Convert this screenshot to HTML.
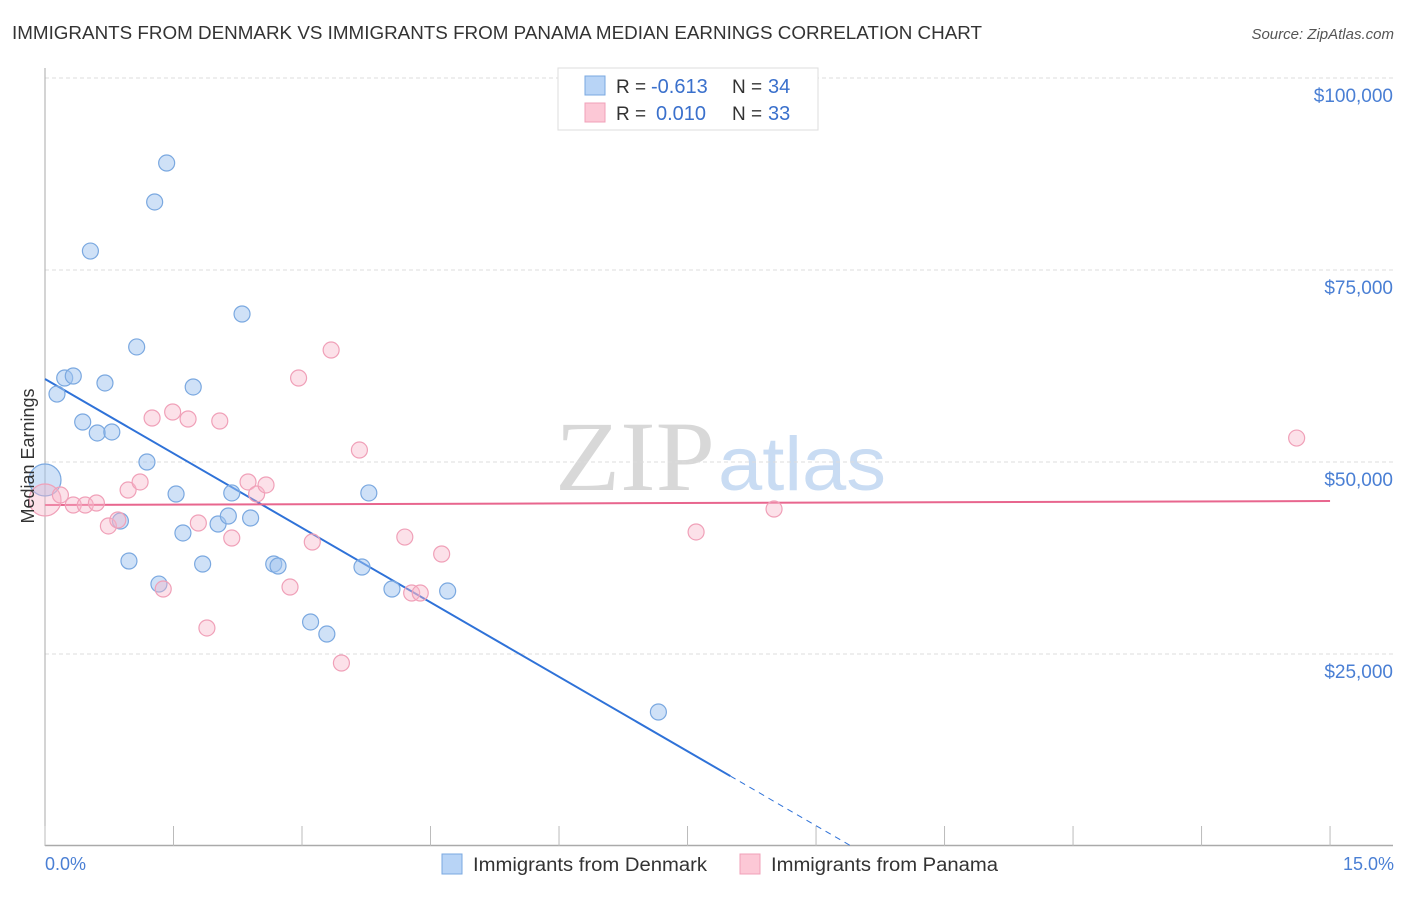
<!DOCTYPE html>
<html><head><meta charset="utf-8"><style>
body{margin:0;background:#fff;font-family:"Liberation Sans",sans-serif;}
</style></head><body>
<svg id="chart" width="1406" height="892" xmlns="http://www.w3.org/2000/svg" font-family="Liberation Sans, sans-serif">
<text x="12" y="39" font-size="18" fill="#333" textLength="970" lengthAdjust="spacingAndGlyphs">IMMIGRANTS FROM DENMARK VS IMMIGRANTS FROM PANAMA MEDIAN EARNINGS CORRELATION CHART</text>
<text x="1394" y="39" font-size="15" fill="#555" text-anchor="end" font-style="italic">Source: ZipAtlas.com</text>
<g>
<text x="555" y="490" font-size="100" fill="#d8d8d8" style="font-family:'Liberation Serif',serif" textLength="160" lengthAdjust="spacingAndGlyphs">ZIP</text>
<text x="718" y="490" font-size="76" fill="#c9dcf3" textLength="168" lengthAdjust="spacingAndGlyphs">atlas</text>
</g>
<g id="grid"></g>
<g id="axes"></g>
<g id="trends"></g>
<g id="points"></g>
<text transform="translate(34,456) rotate(-90)" font-size="18" fill="#333" text-anchor="middle">Median Earnings</text>
<text x="45" y="870" font-size="18" fill="#4a7fd4">0.0%</text>
<text x="1394" y="870" font-size="18" fill="#4a7fd4" text-anchor="end">15.0%</text>
<g>
<rect x="558" y="68" width="260" height="62" fill="#fff" stroke="#ddd"/>
<rect x="585" y="76" width="20" height="19" fill="#b8d4f6" stroke="#7aa8e0"/>
<rect x="585" y="103" width="20" height="19" fill="#fcc8d6" stroke="#f0a0b8"/>
<text x="616" y="93" font-size="19" fill="#333">R =</text>
<text x="651" y="93" font-size="20" fill="#3a70cc">-0.613</text>
<text x="732" y="93" font-size="19" fill="#333">N =</text>
<text x="768" y="93" font-size="20" fill="#3a70cc">34</text>
<text x="616" y="120" font-size="19" fill="#333">R =</text>
<text x="656" y="120" font-size="20" fill="#3a70cc">0.010</text>
<text x="732" y="120" font-size="19" fill="#333">N =</text>
<text x="768" y="120" font-size="20" fill="#3a70cc">33</text>
</g>
<g>
<rect x="442" y="854" width="20" height="20" fill="#b8d4f6" stroke="#7aa8e0"/>
<text x="473" y="871" font-size="19" fill="#333" textLength="234" lengthAdjust="spacingAndGlyphs">Immigrants from Denmark</text>
<rect x="740" y="854" width="20" height="20" fill="#fcc8d6" stroke="#f0a0b8"/>
<text x="771" y="871" font-size="19" fill="#333" textLength="227" lengthAdjust="spacingAndGlyphs">Immigrants from Panama</text>
</g>
</svg>
<script>
const yTicks=[25000,50000,75000,100000];
const yTickLabels=["$25,000","$50,000","$75,000","$100,000"];
const xTicks=[0,1.5,3,4.5,6,7.5,9,10.5,12,13.5,15];
const denX=[0,0.14,0.23,0.33,0.53,0.44,0.61,0.70,0.78,0.88,0.98,1.07,1.19,1.28,1.33,1.42,1.53,1.61,1.73,1.84,2.02,2.14,2.18,2.30,2.40,2.67,2.72,3.10,3.29,3.70,3.78,4.05,4.70,7.16];
const denY=[47660,58850,60940,61200,77470,55210,53780,60290,53910,42320,37110,64980,50000,83860,34110,88930,45830,40760,59770,36720,41930,42970,45970,69270,42710,36720,36460,29170,27600,36330,45970,33460,33200,17450];
const panX=[0,0.18,0.33,0.47,0.60,0.74,0.85,0.97,1.11,1.25,1.38,1.49,1.67,1.79,1.89,2.04,2.18,2.37,2.47,2.58,2.86,2.96,3.12,3.34,3.46,3.67,4.20,4.28,4.38,4.63,7.60,8.51,14.61];
const panY=[45050,45700,44400,44400,44660,41670,42450,46350,47400,55730,33460,56510,55600,42060,28390,55340,40100,47400,45830,47010,33720,60940,39580,64580,23830,51560,40230,32940,32940,38020,40890,43880,53120];
const denTrend=[60810,-6463];
const panTrend=[44400,34.7];
const NS="http://www.w3.org/2000/svg";
const X=v=>45+v*85.67, Y=v=>846-v/130.21;
function mk(t,a,p){const e=document.createElementNS(NS,t);for(const k in a)e.setAttribute(k,a[k]);p.appendChild(e);return e;}
const grid=document.getElementById('grid'),axes=document.getElementById('axes'),tr=document.getElementById('trends'),pts=document.getElementById('points');
yTicks.forEach((t,i)=>{
 const l=mk('line',{x1:45,x2:1393,y1:Y(t),y2:Y(t),stroke:'#ddd','stroke-dasharray':'4,3'},grid);
 
 
 const tx=mk('text',{x:1393,y:Y(t)+24,'font-size':19,fill:'#4a7fd4','text-anchor':'end'},grid);
 tx.textContent=yTickLabels[i];
 
 
});
const topg=mk('line',{x1:45,x2:1393,y1:78,y2:78,stroke:'#ddd','stroke-dasharray':'4,3'},grid);


const ya=mk('line',{x1:45,x2:45,y1:68,y2:846,stroke:'#aaa'},axes);


const xa=mk('line',{x1:45,x2:1393,y1:845.5,y2:845.5,stroke:'#aaa','stroke-width':1.5},axes);


xTicks.forEach(t=>{
 const l=mk('line',{x1:X(t),x2:X(t),y1:826,y2:846,stroke:'#bbb'},axes);
 
 
});
function dots(xs,ys,fill,stroke,name){
 xs.forEach((x,i)=>{
  const c=mk('circle',{cx:X(x),cy:Y(ys[i]),r:i==0?16:8,fill:fill,stroke:stroke,'stroke-width':1.2},pts);
  
  
 });
}
const dEnd=8.0, dZero=-denTrend[0]/denTrend[1];
const b1=mk('line',{x1:X(0),y1:Y(denTrend[0]),x2:X(dEnd),y2:Y(denTrend[0]+denTrend[1]*dEnd),stroke:'#2f72d8','stroke-width':2},tr);


const b2=mk('line',{x1:X(dEnd),y1:Y(denTrend[0]+denTrend[1]*dEnd),x2:X(dZero),y2:Y(0),stroke:'#2f72d8','stroke-width':1,'stroke-dasharray':'6,5'},tr);


const p1=mk('line',{x1:X(0),y1:Y(panTrend[0]),x2:X(15),y2:Y(panTrend[0]+panTrend[1]*15),stroke:'#e8668e','stroke-width':2},tr);


dots(denX,denY,'rgba(160,195,240,0.5)','#7aa8e0','denmark-point');
dots(panX,panY,'rgba(248,180,200,0.4)','#f0a0b8','panama-point');
</script>
</body></html>
